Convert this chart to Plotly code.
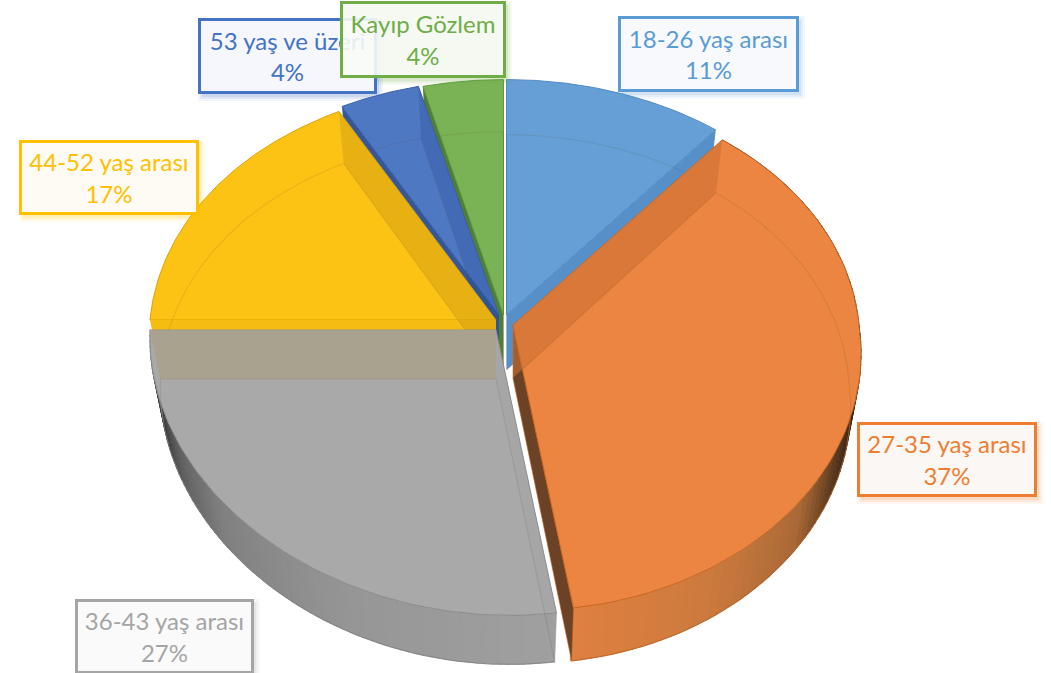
import numpy as np
import plotly.graph_objects as go

# ---- data ----
categories = ["18-26 yaş arası", "27-35 yaş arası", "36-43 yaş arası",
              "44-52 yaş arası", "53 yaş ve üzeri", "Kayıp Gözlem"]
percentages = [11, 37, 27, 17, 4, 4]

# ---- style ----
face_colors = ["#659FD6", "#EB8541", "#A9A9A9", "#FCC314", "#4F78C3", "#7AB356"]
edge_colors = ["#4F8BC6", "#C9651F", "#8C8C8C", "#D9A400", "#3C62AA", "#5F9A3C"]
label_fill = ["#F7F9FC", "#FBF7F4", "#FAFAFA", "#FDFBF4", "rgba(246,248,252,0.97)", "rgba(248,251,246,0.9)"]
label_border = ["#5B9BD5", "#ED7D31", "#A5A5A5", "#FFC000", "#4472C4", "#70AD47"]
start_wall = [None, "rgba(205,112,50,0.6)", "rgba(140,140,140,0.08)",
              "#F5BC12", "#34579A", "#4F7F35"]
end_wall = ["#5790C8", "#6B4226", "#A8A28F", "rgba(200,150,20,0.4)", "rgba(40,80,150,0.3)", None]
# explosion of every slice: top-face apex (px) and thickness (px)
apex = [(506.5, 315), (513, 325), (496, 330), (496, 320), (499, 315), (503.5, 315)]
depth = [55, 53, 49, 52, 52, 52]
# rim shading: angle (deg) -> colour stops
rim_stops = {
    1: ([90, 110, 118, 130, 150, 173], [(50, 32, 20), (60, 38, 22), (95, 60, 32), (170, 105, 55), (205, 122, 62), (222, 128, 64)]),
    2: ([173, 205, 232, 246, 256, 262, 266, 270], [(160, 160, 160), (150, 150, 150), (128, 128, 128), (95, 95, 95), (55, 55, 55), (70, 70, 70), (150, 150, 150), (165, 165, 165)]),
}
RX, KY, PERSP_X, PERSP_Y, SHEAR, LOW_SCALE = 346, 258, 0.07, 0.096, 14, 0.97
# label boxes: left, top, right, bottom in pixels
label_boxes = [(619, 17, 797, 90), (858, 423, 1035, 495), (76, 600, 252, 672),
               (20, 141, 197, 213), (199, 19, 375, 92), (341, 2, 504, 76)]
FONT = "Lato"
FONT_SIZE = 24


def project(theta, i, low=False):
    X, Y = np.sin(theta), np.cos(theta)
    cx, cy = apex[i]
    dx = RX * X / (1 + PERSP_X * Y) + SHEAR * np.maximum(-Y, 0)
    dy = -KY * Y / (1 + PERSP_Y * Y)
    if low:
        return cx + dx * LOW_SCALE, cy + depth[i] + dy
    return cx + dx, cy + dy


def apex_point(i, low=False):
    cx, cy = apex[i]
    return cx, cy + (depth[i] if low else 0)


fig = go.Figure()


def poly(xs, ys, fill=None, line=None, width=1, name=None, closed=True):
    xs, ys = list(xs), list(ys)
    if closed:
        xs, ys = xs + xs[:1], ys + ys[:1]
    fig.add_trace(go.Scatter(
        x=xs, y=ys, mode="lines", name=name, showlegend=False, hoverinfo="skip",
        fill="toself" if fill else None, fillcolor=fill,
        line=dict(color=line or "rgba(0,0,0,0)", width=width if line else 0)))


def wall(theta, i, fill, line=None):
    x1, y1 = project(np.array([theta]), i)
    x2, y2 = project(np.array([theta]), i, low=True)
    ax, ay = apex_point(i)
    bx, by = apex_point(i, low=True)
    poly([ax, x1[0], x2[0], bx], [ay, y1[0], y2[0], by], fill=fill, line=line, width=0.6)


bounds = np.cumsum([0] + percentages) / sum(percentages) * 2 * np.pi
draw_order = [0, 5, 4, 3, 2, 1]

for i in draw_order:
    t0, t1 = bounds[i], bounds[i + 1]
    th = np.linspace(t0, t1, 90)
    xt, yt = project(th, i)
    xb, yb = project(th, i, low=True)
    ax, ay = apex_point(i)
    bx, by = apex_point(i, low=True)

    # outer rim, cut into short shaded bands
    if i in rim_stops:
        ang, cols = rim_stops[i]
        cols = np.array(cols, float)
        edges = np.linspace(t0, t1, 80)
        for a, b in zip(edges[:-1], edges[1:]):
            mid = np.degrees((a + b) / 2)
            c = [np.interp(mid, ang, cols[:, k]) for k in range(3)]
            col = f"rgb({c[0]:.0f},{c[1]:.0f},{c[2]:.0f})"
            seg = np.linspace(a, b + 0.004, 3)
            x1, y1 = project(seg, i)
            x2, y2 = project(seg, i, low=True)
            poly(list(x1) + list(x2[::-1]), list(y1) + list(y2[::-1]), fill=col, line=col, width=0.6)
        poly(xb, yb, line=edge_colors[i], width=0.8, closed=False)

    # walls that lie outside the face, behind it
    if i in (4, 5):
        wall(t0, i, start_wall[i])
    if i == 0:
        wall(t1, i, end_wall[i])
    if i == 1:
        wall(t1, i, end_wall[i], line=edge_colors[i])

    # top face
    poly([ax] + list(xt), [ay] + list(yt), fill=face_colors[i], line=edge_colors[i], width=1,
         name=categories[i])

    # walls seen through the face
    if i in (1, 2, 3):
        wall(t0, i, start_wall[i])
    if i in (2, 3, 4):
        wall(t1, i, end_wall[i])

    # floor outline, faintly visible through the translucent face
    poly([bx] + list(xb), [by] + list(yb), line="rgba(90,70,50,0.12)", width=1.2)

# label shadows, then boxes
shapes = []
for (l, t, r, b), col in zip(label_boxes, label_border):
    for grow, alpha in ((5, 0.07), (3, 0.10), (1, 0.14)):
        shapes.append(dict(type="rect", xref="x", yref="y", x0=l + 4 - grow, x1=r + 3 + grow,
                           y0=t + 4 - grow, y1=b + 4 + grow, line=dict(width=0),
                           fillcolor=col, opacity=alpha, layer="above"))

annotations = []
for k in range(len(categories)):
    l, t, r, b = label_boxes[k]
    annotations.append(dict(
        x=(l + r) / 2, y=(t + b) / 2, xref="x", yref="y", xanchor="center", yanchor="middle",
        text=f"{categories[k]}<br>{percentages[k]}%", showarrow=False,
        width=r - l - 3, height=b - t - 3, align="center", valign="middle",
        bgcolor=label_fill[k], bordercolor=label_border[k], borderwidth=3, borderpad=0,
        font=dict(family=FONT, size=FONT_SIZE, color=label_border[k])))

fig.update_layout(
    width=1051, height=673, margin=dict(l=0, r=0, t=0, b=0),
    paper_bgcolor="white", plot_bgcolor="white", showlegend=False,
    xaxis=dict(range=[0, 1051], visible=False, fixedrange=True),
    yaxis=dict(range=[673, 0], visible=False, fixedrange=True),
    shapes=shapes, annotations=annotations)

fig.write_html("out.html", config={"displayModeBar": False},
               post_script="document.body.style.margin='0';")
